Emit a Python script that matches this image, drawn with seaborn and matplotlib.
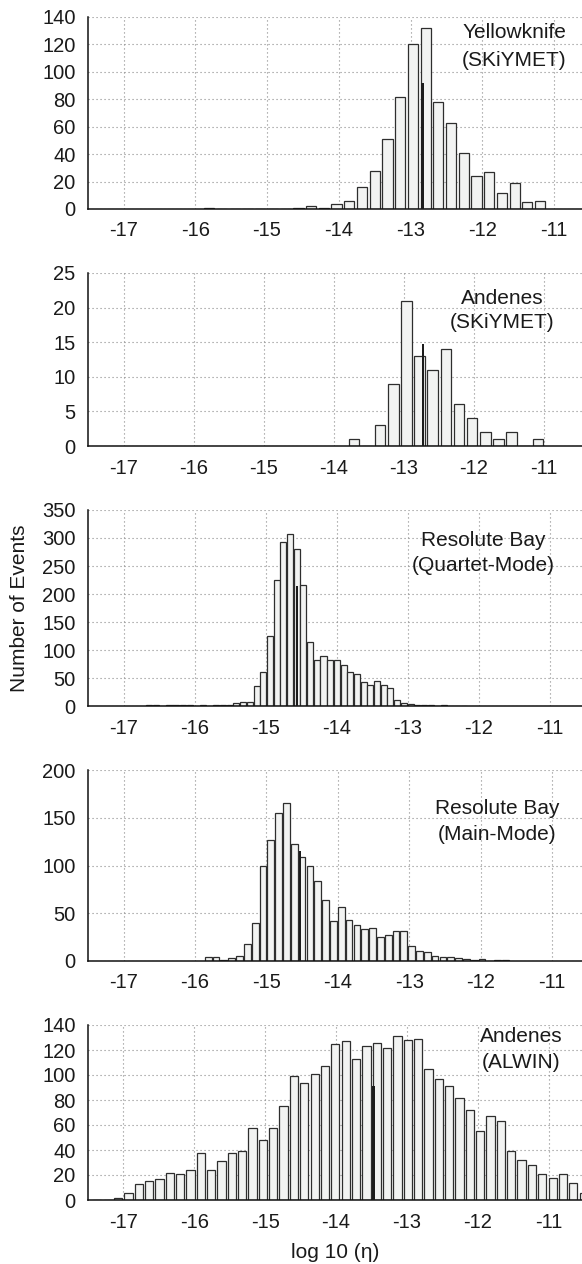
import numpy as np
import pandas as pd
import matplotlib
matplotlib.use("Agg")
import matplotlib.pyplot as plt
import seaborn as sns

# ---------------- data ----------------
# Panel 1: Yellowknife (SKiYMET)
yk_first, yk_width = -15.804, 0.1773
yk_counts = [1, 0, 0, 0, 0, 0, 0, 1, 2, 1, 4, 6, 16, 28, 51, 82, 120, 132,
             78, 63, 41, 24, 27, 12, 19, 5, 6]
yk_marker = (-12.836, 92)

# Panel 2: Andenes (SKiYMET)
as_first, as_width = -13.709, 0.1877
as_counts = [1, 0, 3, 9, 21, 13, 11, 14, 6, 4, 2, 1, 2, 0, 1]
as_marker = (-12.718, 14.7)

# Panel 3: Resolute Bay (Quartet-Mode)
rq_first, rq_width = -16.636, 0.0942
rq_counts = [1, 1, 0, 2, 2, 1, 1, 0, 1, 0, 1, 2, 2,
             6, 7, 8, 36, 61, 125, 225, 292, 308, 280, 216, 114, 82, 89, 83,
             83, 73, 61, 58, 43, 38, 45, 38, 32, 10, 6, 3, 2, 1, 1, 0, 1, 0, 0, 0]
rq_marker = (-14.561, 215)

# Panel 4: Resolute Bay (Main-Mode)
rm_first, rm_width = -15.816, 0.1096
rm_counts = [4, 4, 1, 3, 5, 18, 40, 100, 127, 155, 165, 123, 109, 99, 84, 64,
             42, 57, 43, 38, 34, 35, 25, 27, 31, 31, 16, 10, 9, 5, 4, 4, 3, 2,
             1, 2, 0, 1, 1]
rm_marker = (-14.529, 115)

# Panel 5: Andenes (ALWIN)
aa_first, aa_width = -17.368, 0.146
aa_counts = [0, 0, 2, 6, 13, 15, 17, 22, 21, 24, 38, 24, 31, 38, 39, 58, 48,
             58, 75, 99, 94, 101, 107, 125, 127, 113, 123, 126, 122, 131, 128,
             129, 105, 97, 91, 82, 72, 55, 67, 63, 39, 32, 28, 21, 18, 21, 14, 6]
aa_marker = (-13.47, 91)

site_labels = [("Yellowknife", "(SKiYMET)"), ("Andenes", "(SKiYMET)"),
               ("Resolute Bay", "(Quartet-Mode)"), ("Resolute Bay", "(Main-Mode)"),
               ("Andenes", "(ALWIN)")]
y_maxes = [140, 25, 350, 200, 140]
y_steps = [20, 5, 50, 50, 20]
x_ticks = [-17, -16, -15, -14, -13, -12, -11]

# ---------------- style ----------------
sns.set_theme(style="white")
plt.rcParams["font.family"] = ["Liberation Sans", "DejaVu Sans"]
plt.rcParams["axes.unicode_minus"] = False

W, H = 582, 1264
fig = plt.figure(figsize=(W / 100, H / 100), dpi=100)

# layout in pixels: (top, bottom)
boxes = [(17, 209), (273, 446), (510, 706), (770, 961), (1025, 1200)]
xlims = [(-17.496, -10.61), (-17.508, -10.45), (-17.50, -10.55),
         (-17.50, -10.58), (-17.50, -10.53)]
shrinks = [0.8, 0.8, 0.9, 0.86, 0.8]
text_pos = [(514, 33, 61), (502, 298, 322), (483, 541, 566),
            (497, 809, 834), (521, 1037, 1062)]

panels = [(yk_first, yk_width, yk_counts, yk_marker),
          (as_first, as_width, as_counts, as_marker),
          (rq_first, rq_width, rq_counts, rq_marker),
          (rm_first, rm_width, rm_counts, rm_marker),
          (aa_first, aa_width, aa_counts, aa_marker)]

face = "#f2f3f2"
edge = "#2e2e2e"
left_px = 88

for i, (first, width, counts, marker) in enumerate(panels):
    top, bot = boxes[i]
    ax = fig.add_axes([left_px / W, 1 - bot / H, (W - left_px) / W, (bot - top) / H])
    counts = np.asarray(counts, dtype=float)
    centers = first + width * np.arange(len(counts))
    lo = centers[0] - width / 2
    hi = centers[-1] + width / 2
    df = pd.DataFrame({"eta": centers, "n": counts})
    sns.histplot(data=df, x="eta", weights="n", bins=len(counts),
                 binrange=(lo, hi), shrink=shrinks[i],
                 ax=ax, color=face, edgecolor=edge, linewidth=0.9, alpha=1,
                 stat="count")
    ax.bar([marker[0]], [marker[1]], width=0.035, color="#1c1c1c",
           edgecolor="none", zorder=3)

    ax.set_xlim(*xlims[i])
    ax.set_ylim(0, y_maxes[i])
    ax.set_xticks(x_ticks)
    ax.set_xticklabels([str(t) for t in x_ticks])
    ax.set_yticks(np.arange(0, y_maxes[i] + 1, y_steps[i]))
    ax.set_xlabel("")
    ax.set_ylabel("")
    ax.set_axisbelow(True)
    ax.grid(True, linestyle=(0, (1, 2.6)), color="#8a8a8a", linewidth=0.8)
    for s in ["top", "right"]:
        ax.spines[s].set_visible(False)
    for s in ["left", "bottom"]:
        ax.spines[s].set_color("#111111")
        ax.spines[s].set_linewidth(1.1)
    ax.tick_params(axis="both", length=0, labelsize=14.5, colors="#1a1a1a")
    ax.tick_params(axis="y", pad=9)
    ax.tick_params(axis="x", pad=9)

    tx, ty1, ty2 = text_pos[i]
    fig.text(tx / W, 1 - ty1 / H, site_labels[i][0], ha="center", va="center",
             fontsize=15, color="#1a1a1a")
    fig.text(tx / W, 1 - ty2 / H, site_labels[i][1], ha="center", va="center",
             fontsize=15, color="#1a1a1a")

fig.text(20 / W, 1 - 608 / H, "Number of Events", rotation=90, ha="center",
         va="center", fontsize=15, color="#1a1a1a")
fig.text(335 / W, 1 - 1252 / H, "log 10 (\u03b7)", ha="center", va="center",
         fontsize=15, color="#1a1a1a")

fig.savefig("out.png", dpi=100)
